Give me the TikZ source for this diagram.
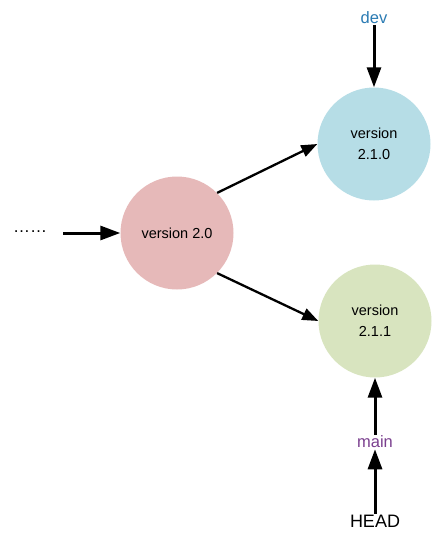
\documentclass[tikz,border=0pt]{standalone}
\usepackage{fontspec}
\setmainfont{Liberation Sans}
\usetikzlibrary{arrows.meta}
\definecolor{pinkc}{HTML}{E6B9B9}
\definecolor{bluec}{HTML}{B6DDE6}
\definecolor{greenc}{HTML}{D8E4BF}
\definecolor{devc}{HTML}{2B7BB3}
\definecolor{mainc}{HTML}{7A3F8E}
\begin{document}
\begin{tikzpicture}[x=1pt,y=-1pt,
  ver/.style={circle,minimum size=113pt,inner sep=0pt,align=center,font=\fontsize{14.5}{21}\selectfont},
  lbl/.style={inner sep=1pt,font=\fontsize{16.5}{18}\selectfont},
  bigarrow/.style={line width=3pt,-{Triangle[length=20pt,width=14pt]}},
  diagarrow/.style={line width=2.3pt,-{Triangle[length=16pt,width=12pt]}}]
\useasboundingbox (0,0) rectangle (432,543);
\node[ver,fill=pinkc] (v20) at (177,233) {version 2.0};
\node[ver,fill=bluec] (v210) at (374,144) {version\\2.1.0};
\node[ver,fill=greenc] (v211) at (375,321) {version\\2.1.1};
\node[inner sep=0pt,font=\fontsize{17}{18}\selectfont] (dots) at (30,232) {……};
\coordinate (start) at (63,233);
\node[lbl,text=devc] (dev) at (374,18) {dev};
\node[lbl,text=mainc] (main) at (375,442) {main};
\node[lbl,font=\fontsize{18}{20}\selectfont] (head) at (375,521) {HEAD};
\draw[bigarrow] (start) -- (v20);
\draw[bigarrow] (dev) -- (v210);
\draw[bigarrow] (main) -- (v211);
\draw[bigarrow] (head) -- (main);
\draw[diagarrow] (v20.45) -- (v210.west);
\draw[diagarrow] (v20.-45) -- (v211.west);
\end{tikzpicture}
\end{document}
